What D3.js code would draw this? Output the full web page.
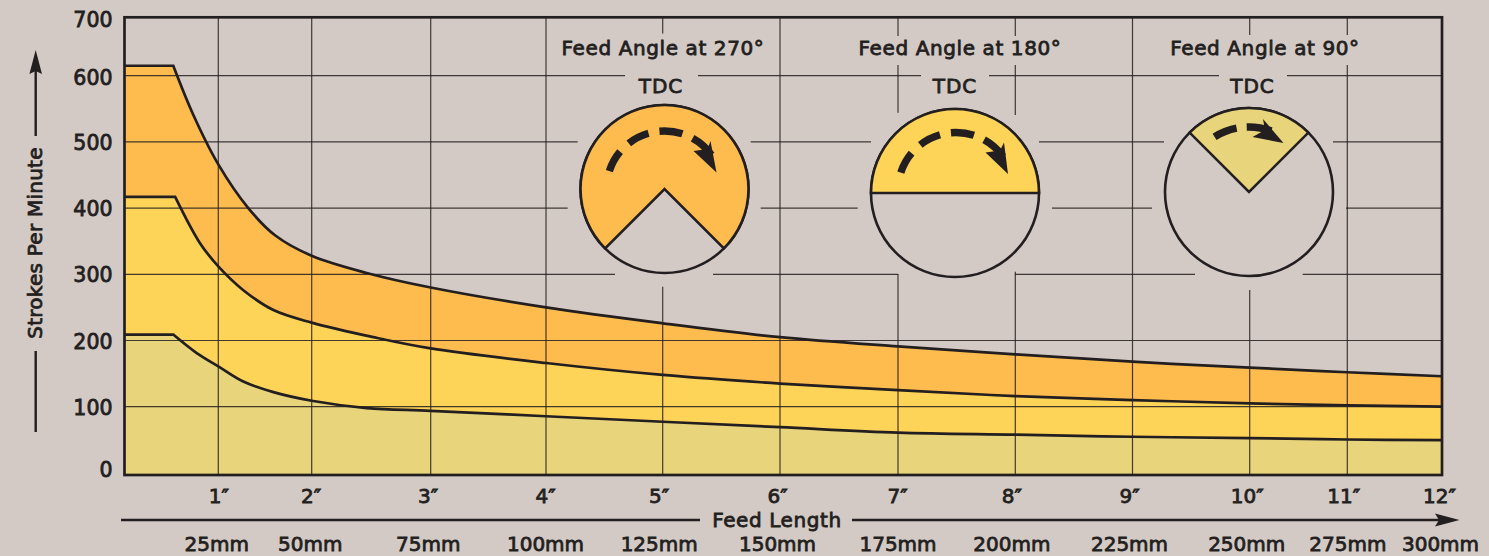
<!DOCTYPE html>
<html>
<head>
<meta charset="utf-8">
<script src="https://cdn.jsdelivr.net/npm/d3@7"></script>
<style>
    html, body { margin: 0; padding: 0; background: #d3cac6; overflow: hidden; }
    svg { display: block; }
    text { font-family: "DejaVu Sans", sans-serif; font-weight: 400; fill: #231f20; stroke: #231f20; stroke-width: 0.8px; }
</style>
</head>
<body>
<div id="chart"></div>
<script>
const chart_width = 1489;
const chart_height = 556;

const ink = '#231f20';
const paper = '#d3cac6';
const orange = '#febc4e';
const yellow = '#fed458';
const khaki = '#e8d47b';

// Values
const inch_ticks = [1, 2, 3, 4, 5, 6, 7, 8, 9, 10, 11, 12];
const inch_labels = ['1″', '2″', '3″', '4″', '5″', '6″', '7″', '8″', '9″', '10″', '11″', '12″'];
const mm_labels = ['25mm', '50mm', '75mm', '100mm', '125mm', '150mm', '175mm', '200mm', '225mm', '250mm', '275mm', '300mm'];
const spm_ticks = [0, 100, 200, 300, 400, 500, 600, 700];

const feed_inches_270 = [0.52, 0.733, 1, 1.321, 1.607, 2, 2.462, 3, 4, 5, 6, 7, 8, 9, 10, 11, 12];
const spm_270 = [617, 541, 466, 400, 359, 328, 302, 280, 250, 226, 205, 191, 179, 168, 159, 152, 146];

const feed_inches_180 = [0.54, 0.805, 1, 1.268, 1.59, 2, 2.518, 3, 4, 5, 6, 7, 8, 9, 10, 11, 12];
const spm_180 = [417, 347, 312, 276, 246, 227, 205, 188, 166, 148, 135, 125, 116, 110, 105, 102, 100];

const feed_inches_90 = [0.52, 0.77, 1, 1.268, 1.59, 2, 2.462, 3, 4, 5, 6, 7, 8, 9, 10, 11, 12];
const spm_90 = [209, 181, 161, 138, 122, 109, 98, 94, 86, 78, 70, 62, 59, 56, 54, 52, 51];

const feed_angles = [270, 180, 90];

//--------------------------------------------------------------------
// create svg element
const svg = d3.select('#chart')
    .append('svg')
    .attr('width', chart_width)
    .attr('height', chart_height);

svg.append('rect')
    .attr('width', chart_width)
    .attr('height', chart_height)
    .attr('fill', paper);

//--------------------------------------------------------------------
// Scales. The original artwork is hand drawn, its grid is not regular
const x_scale = d3.scaleLinear()
    .domain([0, ...inch_ticks])
    .range([124.5, 218.3, 311.7, 430.7, 546, 662.7, 780, 898, 1015.3, 1132.5, 1249.7, 1347.3, 1442]);

const y_scale = d3.scaleLinear()
    .domain([0, 100, 600, 700])
    .range([475, 406.7, 75.7, 17.3]);

const plot_left = x_scale(0);
const plot_right = x_scale(12);
const plot_top = y_scale(700);
const plot_bottom = y_scale(0);

//--------------------------------------------------------------------
// Filled bands, tallest first
const curve_line = d3.line()
    .x(d => x_scale(d[0]))
    .y(d => y_scale(d[1]))
    .curve(d3.curveCatmullRom.alpha(0.5));

// flat run from the left edge to the knee, then the smooth curve
function band_top(xs, ys) {
    const path = curve_line(d3.zip(xs, ys));
    return 'M' + plot_left + ',' + y_scale(ys[0]) + 'L' + path.slice(1);
}

const bands = [
    { xs: feed_inches_270, ys: spm_270, fill: orange },
    { xs: feed_inches_180, ys: spm_180, fill: yellow },
    { xs: feed_inches_90, ys: spm_90, fill: khaki }
];

svg.append('g').selectAll('path')
    .data(bands)
    .enter()
    .append('path')
    .attr('d', d => band_top(d.xs, d.ys) + 'L' + plot_right + ',' + plot_bottom + 'L' + plot_left + ',' + plot_bottom + 'Z')
    .attr('fill', d => d.fill);

//--------------------------------------------------------------------
// Grid, broken where the three dials sit
const h_gaps = {
    600: [[625, 698], [921, 989], [1219, 1287]],
    500: [[577.7, 750.7], [871, 1039], [1164, 1333]],
    400: [[567.7, 760.7], [857.7, 1052], [1152, 1346]],
    300: [[615, 713], [898, 1015], [1195, 1302.7]]
};
const v_gaps = {
    5: [[33.5, 286.7]],
    7: [[36, 65], [112.7, 274]],
    8: [[36, 65], [115, 271.7]],
    10: [[35, 290]],
    11: [[35, 65]]
};

function split_line(from, to, gaps) {
    const parts = [];
    let start = from;
    (gaps || []).forEach(g => {
        parts.push([start, g[0]]);
        start = g[1];
    });
    parts.push([start, to]);
    return parts;
}

const grid = svg.append('g')
    .attr('stroke', ink)
    .attr('stroke-width', 1.2)
    .attr('stroke-opacity', 0.85);

spm_ticks.slice(1, 7).forEach(v => {
    split_line(plot_left, plot_right, h_gaps[v]).forEach(p => {
        grid.append('line')
            .attr('x1', p[0])
            .attr('x2', p[1])
            .attr('y1', y_scale(v))
            .attr('y2', y_scale(v));
    });
});

inch_ticks.slice(0, 11).forEach(v => {
    split_line(plot_top, plot_bottom, v_gaps[v]).forEach(p => {
        grid.append('line')
            .attr('x1', x_scale(v))
            .attr('x2', x_scale(v))
            .attr('y1', p[0])
            .attr('y2', p[1]);
    });
});

// curve outlines go over the grid
svg.append('g').selectAll('path')
    .data(bands)
    .enter()
    .append('path')
    .attr('d', d => band_top(d.xs, d.ys))
    .attr('fill', 'none')
    .attr('stroke', ink)
    .attr('stroke-width', 2.7);

// plot frame
svg.append('rect')
    .attr('x', plot_left)
    .attr('y', plot_top)
    .attr('width', plot_right - plot_left)
    .attr('height', plot_bottom - plot_top)
    .attr('fill', 'none')
    .attr('stroke', ink)
    .attr('stroke-width', 2.7);

//--------------------------------------------------------------------
// Axes, only their labels are kept
const y_nudge = { 0: 0, 100: 2, 200: 2, 300: 2, 400: 2, 500: 2.5, 600: 3.5, 700: 3.5 };
const y_axis = d3.axisLeft(y_scale)
    .tickValues(spm_ticks)
    .tickSize(0)
    .tickPadding(12);

svg.append('g')
    .attr('class', 'y-axis')
    .attr('transform', 'translate(' + plot_left + ',0)')
    .call(y_axis)
    .call(g => g.select('.domain').remove())
    .selectAll('text')
    .attr('font-size', 20.5)
    .attr('dy', d => (5.5 + y_nudge[d] - (d === 0 ? 4 : 0)) + 'px');

const inch_nudge = [0, -1, -3, -1, -4, -3, -1, -4, -3.5, -3, -4, -3];
const mm_nudge = [-2, -2, -3, -1, -4, -3, -0.5, -4, -3.5, -3.5, 0, -2];

const inch_axis = d3.axisBottom(x_scale)
    .tickValues(inch_ticks)
    .tickSize(0)
    .tickPadding(0)
    .tickFormat((d, i) => inch_labels[i]);

svg.append('g')
    .attr('class', 'x-axis')
    .attr('transform', 'translate(0,486)')
    .call(inch_axis)
    .call(g => g.select('.domain').remove())
    .selectAll('text')
    .attr('font-size', 20)
    .attr('y', 0)
    .attr('dy', '17px')
    .attr('dx', (d, i) => inch_nudge[i]);

const mm_axis = d3.axisBottom(x_scale)
    .tickValues(inch_ticks)
    .tickSize(0)
    .tickPadding(0)
    .tickFormat((d, i) => mm_labels[i]);

svg.append('g')
    .attr('class', 'mm-axis')
    .attr('transform', 'translate(0,534)')
    .call(mm_axis)
    .call(g => g.select('.domain').remove())
    .selectAll('text')
    .attr('font-size', 20)
    .attr('y', 0)
    .attr('dy', '17px')
    .attr('dx', (d, i) => mm_nudge[i]);

//--------------------------------------------------------------------
// Axis titles with their arrows
svg.append('text')
    .text('Strokes Per Minute')
    .attr('text-anchor', 'middle')
    .attr('font-size', 20)
    .attr('letter-spacing', 0.25)
    .attr('transform', 'translate(42,243) rotate(-90)');

svg.append('text')
    .text('Feed Length')
    .attr('text-anchor', 'middle')
    .attr('font-size', 20)
    .attr('letter-spacing', 0.6)
    .attr('x', 777)
    .attr('y', 527);

const rules = [
    [35.7, 136, 35.7, 70],
    [35.7, 351, 35.7, 432],
    [121, 520, 700, 520],
    [852, 520, 1440, 520]
];

svg.append('g').selectAll('line')
    .data(rules)
    .enter()
    .append('line')
    .attr('x1', d => d[0])
    .attr('y1', d => d[1])
    .attr('x2', d => d[2])
    .attr('y2', d => d[3])
    .attr('stroke', ink)
    .attr('stroke-width', 2.4);

svg.append('path')
    .attr('d', 'M35.7,50L42,74L35.7,71L29.4,74Z')
    .attr('fill', ink);

svg.append('path')
    .attr('d', 'M1459.5,520L1435,513.5L1439,520L1435,526.5Z')
    .attr('fill', ink);

//--------------------------------------------------------------------
// The three feed angle dials
const dial_radius = 84;
const dials = [
    {
        cx: 664.5, cy: 189, fill: orange, title_x: 663, tdc_x: 661, arrow: 'M52,-16.5L46,-48L43,-40L29,-38Z',
        dashes: [[-72, -50], [-38, -16], [-5, 18], [29, 54]], ax: 664.5, ay: 189, dash_r: 58
    },
    {
        cx: 955, cy: 193, fill: yellow, title_x: 960, tdc_x: 955, arrow: 'M52,-16.5L48,-48L44,-40L29.5,-38Z',
        dashes: [[-72, -50], [-38, -16], [-5, 18], [29, 54]], ax: 956, ay: 190.5, dash_r: 58
    },
    {
        cx: 1249, cy: 192, fill: khaki, title_x: 1265, tdc_x: 1252.5, arrow: 'M34.5,-49L14,-73L16,-62L3.5,-55Z',
        dashes: [[-32, -11], [-2, 20]], ax: 1249, ay: 192, dash_r: 65
    }
];

const dial = svg.append('g').selectAll('g')
    .data(dials)
    .enter()
    .append('g');

dial.append('text')
    .text((d, i) => 'Feed Angle at ' + feed_angles[i] + '°')
    .attr('text-anchor', 'middle')
    .attr('font-size', 20)
    .attr('letter-spacing', 0.6)
    .attr('x', d => d.title_x)
    .attr('y', 55);

dial.append('text')
    .text('TDC')
    .attr('text-anchor', 'middle')
    .attr('font-size', 20)
    .attr('letter-spacing', 1)
    .attr('x', d => d.tdc_x)
    .attr('y', 93);

dial.append('circle')
    .attr('cx', d => d.cx)
    .attr('cy', d => d.cy)
    .attr('r', dial_radius)
    .attr('fill', paper)
    .attr('stroke', ink)
    .attr('stroke-width', 2.6);

const sector = d3.arc()
    .innerRadius(0)
    .outerRadius(dial_radius);

dial.append('path')
    .attr('transform', d => 'translate(' + d.cx + ',' + d.cy + ')')
    .attr('d', (d, i) => sector({
        startAngle: -feed_angles[i] / 2 * Math.PI / 180,
        endAngle: feed_angles[i] / 2 * Math.PI / 180
    }))
    .attr('fill', d => d.fill)
    .attr('stroke', ink)
    .attr('stroke-width', 2.6)
    .attr('stroke-linejoin', 'miter');

const rotation = svg.append('g');

dials.forEach(d => {
    const g = rotation.append('g')
        .attr('transform', 'translate(' + d.ax + ',' + d.ay + ')');

    g.selectAll('path')
        .data(d.dashes)
        .enter()
        .append('path')
        .attr('d', a => d3.arc()({
            innerRadius: d.dash_r - 3.7,
            outerRadius: d.dash_r + 3.7,
            startAngle: a[0] * Math.PI / 180,
            endAngle: a[1] * Math.PI / 180
        }))
        .attr('fill', ink);

    g.append('path')
        .attr('d', d.arrow)
        .attr('fill', ink);
});
</script>
</body>
</html>
